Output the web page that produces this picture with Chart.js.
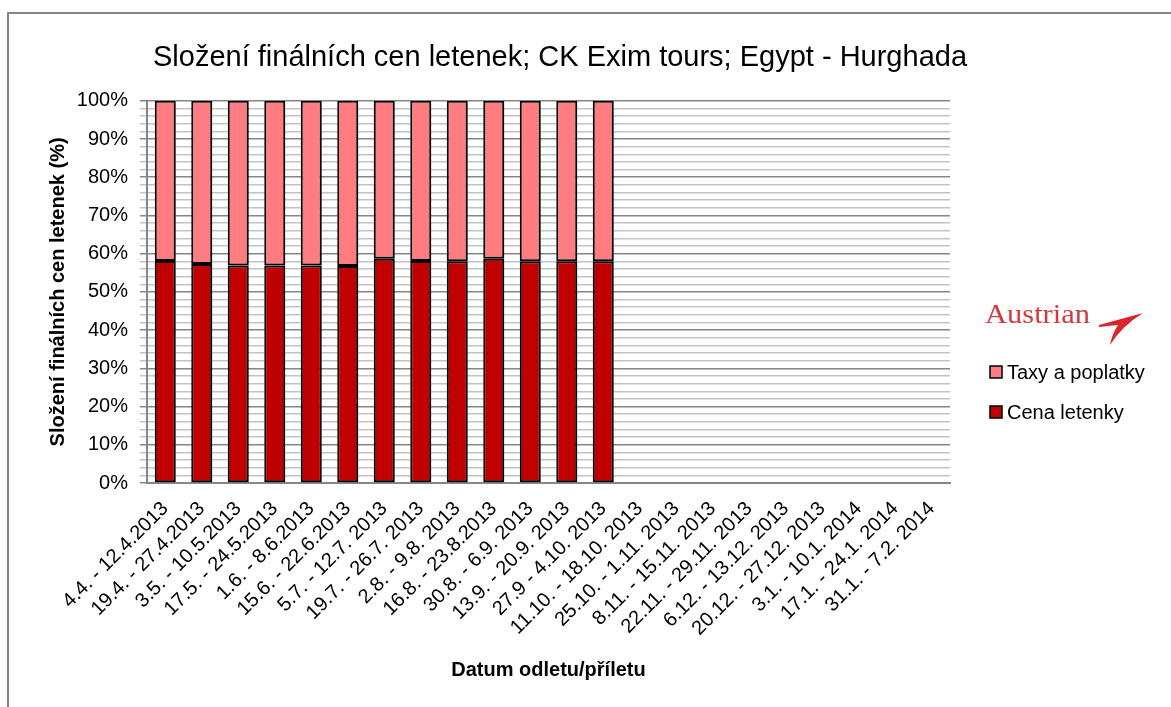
<!DOCTYPE html>
<html lang="cs">
<head>
<meta charset="utf-8">
<title>Složení finálních cen letenek</title>
<script src="https://cdn.jsdelivr.net/npm/chart.js@4.4.1/dist/chart.umd.min.js"></script>
<style>
    html, body {
        margin: 0;
        padding: 0;
        background: #fff;
        overflow: hidden;
        width: 1171px;
        height: 707px;
    }
    .frame {
        position: absolute;
        left: 7px;
        top: 12px;
        width: 1300px;
        height: 900px;
        border: 2px solid #878787;
    }
    .chart-wrap {
        position: absolute;
        left: -50px;
        top: 0;
        width: 1220px;
        height: 707px;
    }
</style>
</head>
<body>
<div class="frame"></div>
<div class="chart-wrap">
    <canvas id="priceChart" width="1220" height="707"></canvas>
</div>

<script>
// Data (share of final ticket price, %)
const categories = [
    '4.4. - 12.4.2013', '19.4. - 27.4.2013', '3.5. - 10.5.2013', '17.5. - 24.5.2013',
    '1.6. - 8.6.2013', '15.6. - 22.6.2013', '5.7. - 12.7. 2013', '19.7. - 26.7. 2013',
    '2.8. - 9.8. 2013', '16.8. - 23.8.2013', '30.8. - 6.9. 2013', '13.9. - 20.9. 2013',
    '27.9 - 4.10. 2013', '11.10. - 18.10. 2013', '25.10. - 1.11. 2013', '8.11. - 15.11. 2013',
    '22.11. - 29.11. 2013', '6.12. - 13.12. 2013', '20.12. - 27.12. 2013', '3.1. - 10.1. 2014',
    '17.1. - 24.1. 2014', '31.1. - 7.2. 2014'
];
const cenaLetenky = [58.1, 57.3, 56.9, 56.9, 56.9, 56.8, 58.7, 58.1, 58.0, 58.7, 58.0, 58.0, 58.0];
const taxyPoplatky = [41.9, 42.7, 43.1, 43.1, 43.1, 43.2, 41.3, 41.9, 42.0, 41.3, 42.0, 42.0, 42.0];
const yTickStep = 2;
const yLabelStep = 10;

const FONT = '"Liberation Sans", Arial, sans-serif';

document.addEventListener('DOMContentLoaded', function () {
    drawPriceChart();
});

// soft Excel-like shadow under the bars
const barShadow = {
    id: 'barShadow',
    beforeDatasetsDraw(chart) {
        const ctx = chart.ctx;
        ctx.save();
        ctx.shadowColor = 'rgba(0,0,0,0.3)';
        ctx.shadowOffsetX = 2;
        ctx.shadowOffsetY = 2;
        ctx.shadowBlur = 3;
    },
    afterDatasetsDraw(chart) {
        chart.ctx.restore();
    }
};

// Austrian logo + legend on the right side
const sideLegend = {
    id: 'sideLegend',
    afterDraw(chart) {
        const ctx = chart.ctx;
        ctx.save();

        // logo text
        ctx.fillStyle = '#d33a3f';
        ctx.font = '28px "Liberation Serif", "Times New Roman", serif';
        ctx.textBaseline = 'alphabetic';
        ctx.textAlign = 'left';
        const w = ctx.measureText('Austrian').width;
        ctx.save();
        ctx.translate(1035, 323);
        ctx.scale(105 / w, 1);
        ctx.fillText('Austrian', 0, 0);
        ctx.restore();

        // swoosh
        ctx.fillStyle = '#d8262c';
        ctx.beginPath();
        ctx.moveTo(1149, 325);
        ctx.lineTo(1193, 313);
        ctx.quadraticCurveTo(1172, 326, 1160, 345);
        ctx.quadraticCurveTo(1162, 334, 1168, 325);
        ctx.lineTo(1149, 327);
        ctx.closePath();
        ctx.fill();

        // legend items, stacked order reversed like Excel
        const items = chart.data.datasets.slice().reverse();
        ctx.font = '20px ' + FONT;
        ctx.textBaseline = 'middle';
        items.forEach((ds, i) => {
            const y = 372 + i * 40;
            ctx.fillStyle = ds.backgroundColor;
            ctx.fillRect(1040, y - 6, 12, 12);
            ctx.strokeStyle = '#000';
            ctx.lineWidth = 1.5;
            ctx.strokeRect(1040, y - 6, 12, 12);
            ctx.fillStyle = '#000';
            ctx.fillText(ds.label, 1057, y + 1);
        });
        ctx.restore();
    }
};

function drawPriceChart() {
    const ctx = document.getElementById('priceChart').getContext('2d');
    new Chart(ctx, {
        type: 'bar',
        data: {
            labels: categories,
            datasets: [
                {
                    label: 'Cena letenky',
                    data: cenaLetenky,
                    backgroundColor: '#c00000',
                    borderColor: '#000',
                    borderWidth: 2,
                    borderSkipped: false,
                    barPercentage: 0.575,
                    categoryPercentage: 1
                },
                {
                    label: 'Taxy a poplatky',
                    data: taxyPoplatky,
                    backgroundColor: '#ff7c80',
                    borderColor: '#000',
                    borderWidth: 2,
                    borderSkipped: false,
                    barPercentage: 0.575,
                    categoryPercentage: 1
                }
            ]
        },
        options: {
            responsive: false,
            animation: false,
            devicePixelRatio: 1,
            layout: {
                padding: 0
            },
            plugins: {
                legend: { display: false },
                tooltip: { enabled: false },
                title: {
                    display: true,
                    text: 'Složení finálních cen letenek; CK Exim tours; Egypt - Hurghada',
                    color: '#000',
                    font: { family: FONT, size: 29, weight: 'normal' },
                    padding: { top: 41, bottom: 25 }
                }
            },
            scales: {
                x: {
                    stacked: true,
                    grid: { display: false },
                    border: { display: true, color: '#868686', width: 2 },
                    ticks: {
                        color: '#000',
                        font: { family: FONT, size: 20 },
                        autoSkip: false,
                        maxRotation: 45,
                        minRotation: 45,
                        padding: 6
                    },
                    title: {
                        display: true,
                        text: 'Datum odletu/příletu',
                        color: '#000',
                        font: { family: FONT, size: 20, weight: 'bold' },
                        padding: { top: 0, bottom: 25 }
                    },
                    afterFit: function (scale) {
                        scale.height = 224;
                    }
                },
                y: {
                    stacked: true,
                    min: 0,
                    max: 100,
                    border: { display: true, color: '#868686', width: 2 },
                    grid: {
                        color: c => (c.tick && c.tick.value % yLabelStep === 0) ? '#868686' : '#c3c3c3',
                        tickColor: c => (c.tick && c.tick.value % yLabelStep === 0) ? '#868686' : '#c3c3c3',
                        lineWidth: 1.5,
                        tickLength: 7
                    },
                    ticks: {
                        stepSize: yTickStep,
                        autoSkip: false,
                        color: '#000',
                        font: { family: FONT, size: 20 },
                        padding: 12,
                        callback: value => value % yLabelStep === 0 ? value + '%' : ''
                    },
                    title: {
                        display: true,
                        text: 'Složení finálních cen letenek (%)',
                        color: '#000',
                        font: { family: FONT, size: 20, weight: 'bold' },
                        padding: { top: 96, bottom: 0 }
                    },
                    afterFit: function (scale) {
                        scale.width = 197;
                    }
                },
                // empty right-hand box: keeps room for the logo and legend
                side: {
                    type: 'linear',
                    position: 'right',
                    display: true,
                    grid: { display: false },
                    border: { display: false },
                    ticks: { display: false },
                    afterFit: function (scale) {
                        scale.width = 220;
                    }
                }
            }
        },
        plugins: [barShadow, sideLegend]
    });
}
</script>
</body>
</html>
